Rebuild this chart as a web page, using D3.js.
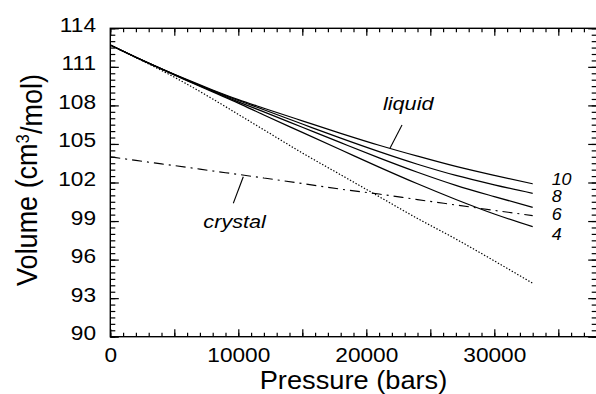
<!DOCTYPE html>
<html>
<head>
<meta charset="utf-8">
<script src="https://cdn.jsdelivr.net/npm/d3@7"></script>
<style>
  html, body { margin: 0; padding: 0; background: #fff; }
  svg { display: block; }
  text { font-family: "Liberation Sans", Arial, Helvetica, sans-serif; fill: #000; }
</style>
</head>
<body>
<svg id="chart" width="596" height="394"></svg>
<script>
// Pressure grid (bars) shared by every series
const pressure = [0, 2000, 4000, 6000, 8000, 10000, 12000, 15000, 18000, 21000, 24000, 27000, 30000, 33000];

// Liquid molar volume (cm3/mol) for the four model sizes
const liquid10 = [112.7, 111.75, 110.85, 110.0, 109.2, 108.45, 107.78, 106.8, 105.83, 104.9, 104.05, 103.25, 102.55, 101.9];
const liquid8  = [112.7, 111.75, 110.85, 109.98, 109.15, 108.38, 107.66, 106.55, 105.45, 104.4, 103.42, 102.55, 101.82, 101.16];
const liquid6  = [112.7, 111.75, 110.84, 109.95, 109.1, 108.28, 107.5, 106.3, 105.1, 103.92, 102.8, 101.78, 100.9, 100.07];
const liquid4  = [112.7, 111.74, 110.82, 109.92, 109.05, 108.18, 107.25, 105.9, 104.55, 103.2, 101.9, 100.68, 99.55, 98.56];

// Crystal volume (dash-dot) and the dotted reference curve
const crystal  = [104.0, 103.72, 103.45, 103.18, 102.9, 102.63, 102.35, 101.92, 101.48, 101.1, 100.67, 100.25, 99.83, 99.42];
const dotted   = [112.7, 111.72, 110.72, 109.65, 108.5, 107.3, 106.1, 104.3, 102.6, 100.9, 99.2, 97.6, 95.9, 94.16];

// Series names and tick values
const liquidNames = ["10", "8", "6", "4"];
const xLabelTicks = [0, 10000, 20000, 30000];
const xMajorTicks = [0, 5000, 10000, 15000, 20000, 25000, 30000, 35000];
const yLabelTicks = [90, 93, 96, 99, 102, 105, 108, 111, 114];

const svg = d3.select("#chart");

const x = d3.scaleLinear().domain([0, 38000]).range([110.3, 596.7]);
const y = d3.scaleLinear().domain([90, 114]).range([336.7, 28.3]);

const [x0, x1] = x.range();
const [y0, y1] = y.range();

// ---- frame ----
svg.append("rect")
  .attr("x", x0).attr("y", y1)
  .attr("width", x1 - x0).attr("height", y0 - y1)
  .attr("fill", "none").attr("stroke", "#000").attr("stroke-width", 1.4);

// ---- inward ticks on all four sides ----
function ticks(axisFn, scale, values, len, tx, ty) {
  svg.append("g")
    .attr("transform", `translate(${tx},${ty})`)
    .call(axisFn(scale).tickValues(values).tickSize(-len).tickFormat(""))
    .call(g => g.select(".domain").remove())
    .call(g => g.selectAll("line").attr("stroke", "#000").attr("stroke-width", 1.2));
}
const xMinor = d3.range(0, 38001, 1000);
const yMinor = d3.range(90, 114.001, 0.5);
const yMajor = d3.range(90, 114.001, 3);

ticks(d3.axisBottom, x, xMinor, 4, 0, y0);
ticks(d3.axisBottom, x, xMajorTicks, 7.5, 0, y0);
ticks(d3.axisTop, x, xMinor, 4, 0, y1);
ticks(d3.axisTop, x, xMajorTicks, 7.5, 0, y1);
ticks(d3.axisLeft, y, yMinor, 5, x0, 0);
ticks(d3.axisLeft, y, yMajor, 8.5, x0, 0);
ticks(d3.axisRight, y, yMinor, 5, x1, 0);
ticks(d3.axisRight, y, yMajor, 8.5, x1, 0);

// ---- tick labels ----
const tickFont = 21, tickStretch = 1.08;
svg.append("g")
  .attr("transform", `translate(0,${y0})`)
  .call(d3.axisBottom(x).tickValues(xLabelTicks).tickSize(0).tickFormat(d3.format("d")))
  .call(g => g.select(".domain").remove())
  .call(g => g.selectAll("text")
    .attr("font-size", tickFont)
    .attr("dy", null).attr("y", 25.3)
    .attr("transform", `scale(${tickStretch},1)`));

svg.append("g")
  .attr("transform", `translate(${x0},0)`)
  .call(d3.axisLeft(y).tickValues(yLabelTicks).tickSize(0).tickFormat(d3.format("d")))
  .call(g => g.select(".domain").remove())
  .call(g => g.selectAll("text")
    .attr("font-size", tickFont)
    .attr("dy", null).attr("y", 3)
    .attr("x", -14.3 / tickStretch)
    .attr("transform", `scale(${tickStretch},1)`));

// ---- axis titles ----
svg.append("text")
  .attr("transform", `translate(${(x0 + x1) / 2},388.5) scale(1.09,1)`)
  .attr("text-anchor", "middle")
  .attr("font-size", 25)
  .text("Pressure (bars)");

const yTitle = svg.append("text")
  .attr("transform", `translate(37,180) rotate(-90) scale(1,1.08)`)
  .attr("text-anchor", "middle")
  .attr("font-size", 27);
yTitle.append("tspan").text("Volume (cm");
yTitle.append("tspan").attr("dy", "-0.42em").attr("font-size", "0.62em").text("3");
yTitle.append("tspan").attr("dy", "0.42em").text("/mol)");

// ---- curves ----
const line = d3.line()
  .x((d, i) => x(pressure[i]))
  .y(d => y(d))
  .curve(d3.curveMonotoneX);

const plot = svg.append("g");

plot.append("path").datum(dotted)
  .attr("d", line).attr("fill", "none")
  .attr("stroke", "#000").attr("stroke-width", 1.2)
  .attr("stroke-dasharray", "1.4,1.8");

plot.append("path").datum(crystal)
  .attr("d", line).attr("fill", "none")
  .attr("stroke", "#000").attr("stroke-width", 1.1)
  .attr("stroke-dasharray", "10,5,2,5");

[liquid10, liquid8, liquid6, liquid4].forEach(s => {
  plot.append("path").datum(s)
    .attr("d", line).attr("fill", "none")
    .attr("stroke", "#000").attr("stroke-width", 1.25);
});

// ---- annotations ----
const sizeLabelP = 34480;
const sizeLabelV = [101.8, 100.5, 99.08, 97.52];
liquidNames.forEach((name, i) => {
  svg.append("text")
    .attr("transform", `translate(${x(sizeLabelP)},${y(sizeLabelV[i])}) scale(1.12,1)`)
    .attr("font-size", 16).attr("font-style", "italic")
    .text(name);
});

// phase labels with leader lines (pressure, volume)
const phaseLabels = [
  { text: "liquid",  p: 21300, v: 107.64, from: [22790, 106.47], to: [21850, 104.66] },
  { text: "crystal", p: 7270,  v: 98.44,  from: [10390, 102.45], to: [9610, 100.38] }
];
phaseLabels.forEach(a => {
  svg.append("text")
    .attr("transform", `translate(${x(a.p)},${y(a.v)}) scale(1.14,1)`)
    .attr("font-size", 19).attr("font-style", "italic")
    .text(a.text);
  svg.append("line")
    .attr("x1", x(a.from[0])).attr("y1", y(a.from[1]))
    .attr("x2", x(a.to[0])).attr("y2", y(a.to[1]))
    .attr("stroke", "#000").attr("stroke-width", 1.1);
});
</script>
</body>
</html>
